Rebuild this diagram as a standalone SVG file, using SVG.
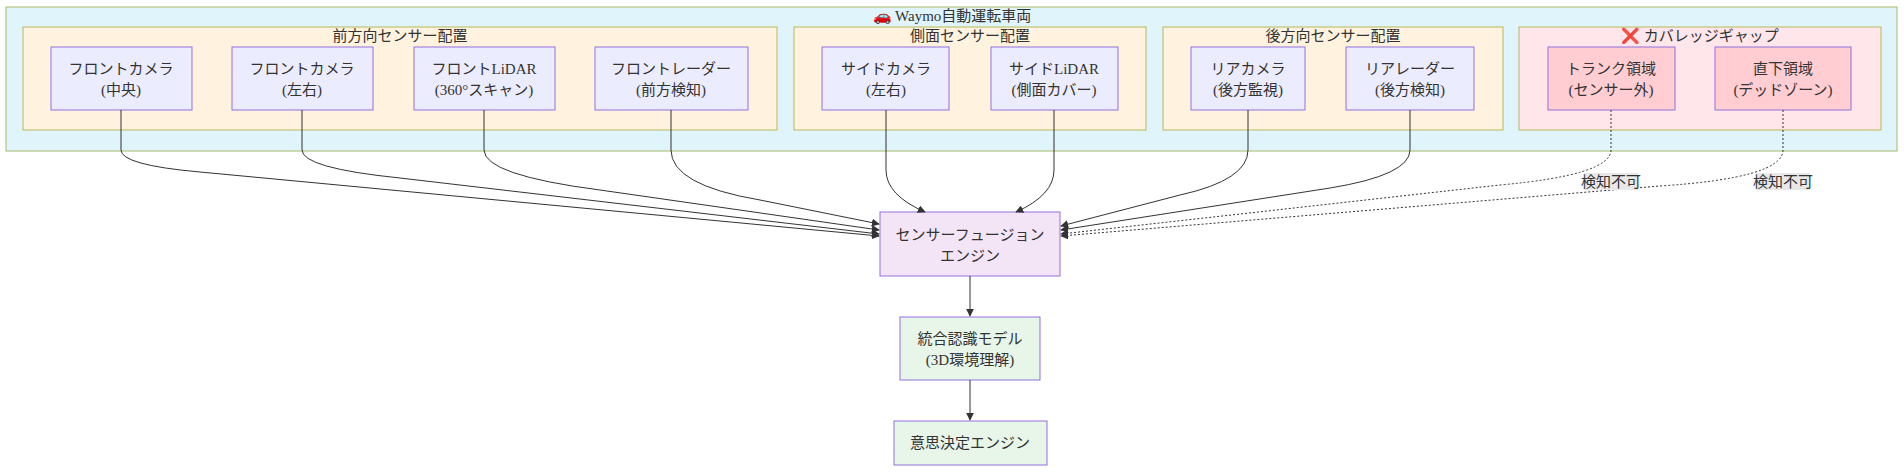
<svg xmlns="http://www.w3.org/2000/svg" width="1904" height="472" viewBox="0 0 1904 472">
<defs>
<style>
text{font-family:"Liberation Serif","Noto Sans CJK JP",serif;font-size:15px;fill:#333;text-anchor:middle}
.g{fill:#fff3e0;stroke:#b8b85a;stroke-width:1}
.n{fill:#ececff;stroke:#9370db;stroke-width:1}
.r{fill:#ffcdd2;stroke:#9370db;stroke-width:1}
.e{fill:none;stroke:#333;stroke-width:1;marker-end:url(#a)}
.d{fill:none;stroke:#333;stroke-width:1;stroke-dasharray:2 2;marker-end:url(#a)}
</style>
<marker id="a" viewBox="0 0 10 10" refX="9" refY="5" markerWidth="8" markerHeight="8" orient="auto"><path d="M0,0L10,5L0,10z" fill="#333"/></marker>
</defs>
<rect width="1904" height="472" fill="#fff"/>
<g id="vehicle"><rect x="6" y="7" width="1891" height="144" fill="#dff4fb" stroke="#a8b86a"/><text x="952" y="21">🚗 Waymo自動運転車両</text></g>
<g id="front"><rect class="g" x="23" y="27" width="754" height="103"/><text x="400" y="41">前方向センサー配置</text></g>
<g id="side"><rect class="g" x="794" y="27" width="352" height="103"/><text x="970" y="41">側面センサー配置</text></g>
<g id="rear"><rect class="g" x="1163" y="27" width="340" height="103"/><text x="1333" y="41">後方向センサー配置</text></g>
<g id="gap"><rect x="1519" y="27" width="362" height="103" fill="#ffe6ea" stroke="#b8b85a"/><text x="1700" y="41">❌ カバレッジギャップ</text></g>
<g id="fc"><rect class="n" x="51" y="47" width="141" height="63"/><text x="121" y="74">フロントカメラ</text><text x="121" y="95">(中央)</text></g>
<g id="fl"><rect class="n" x="232" y="47" width="141" height="63"/><text x="302" y="74">フロントカメラ</text><text x="302" y="95">(左右)</text></g>
<g id="fli"><rect class="n" x="414" y="47" width="141" height="63"/><text x="484" y="74">フロントLiDAR</text><text x="484" y="95">(360°スキャン)</text></g>
<g id="fr"><rect class="n" x="595" y="47" width="153" height="63"/><text x="671" y="74">フロントレーダー</text><text x="671" y="95">(前方検知)</text></g>
<g id="sc"><rect class="n" x="822" y="47" width="127" height="63"/><text x="886" y="74">サイドカメラ</text><text x="886" y="95">(左右)</text></g>
<g id="sl"><rect class="n" x="991" y="47" width="127" height="63"/><text x="1054" y="74">サイドLiDAR</text><text x="1054" y="95">(側面カバー)</text></g>
<g id="rc"><rect class="n" x="1191" y="47" width="114" height="63"/><text x="1248" y="74">リアカメラ</text><text x="1248" y="95">(後方監視)</text></g>
<g id="rr"><rect class="n" x="1346" y="47" width="128" height="63"/><text x="1410" y="74">リアレーダー</text><text x="1410" y="95">(後方検知)</text></g>
<g id="trunk"><rect class="r" x="1548" y="47" width="127" height="63"/><text x="1611" y="74">トランク領域</text><text x="1611" y="95">(センサー外)</text></g>
<g id="under"><rect class="r" x="1715" y="47" width="136" height="63"/><text x="1783" y="74">直下領域</text><text x="1783" y="95">(デッドゾーン)</text></g>
<g id="fusion"><rect x="880" y="212" width="180" height="64" fill="#f3e5f5" stroke="#9370db"/><text x="970" y="240">センサーフュージョン</text><text x="970" y="261">エンジン</text></g>
<g id="model"><rect x="900" y="317" width="140" height="63" fill="#e8f5e9" stroke="#9370db"/><text x="970" y="344">統合認識モデル</text><text x="970" y="365">(3D環境理解)</text></g>
<g id="decision"><rect x="894" y="421" width="153" height="44" fill="#e8f5e9" stroke="#9370db"/><text x="970" y="448">意思決定エンジン</text></g>
<g id="edges">
<path class="e" d="M121,110 V150 Q121,165 200,172 L879,236"/>
<path class="e" d="M302,110 V150 Q302,168 400,178 L879,234"/>
<path class="e" d="M484,110 V150 Q484,175 600,190 L879,230"/>
<path class="e" d="M671,110 V150 Q671,185 760,200 L879,224"/>
<path class="e" d="M886,110 V170 Q886,195 925,212"/>
<path class="e" d="M1054,110 V170 Q1054,195 1016,212"/>
<path class="e" d="M1248,110 V150 Q1248,180 1180,195 L1061,226"/>
<path class="e" d="M1410,110 V150 Q1410,175 1330,188 L1061,230"/>
<path class="d" d="M1611,110 V150 Q1611,175 1500,185 L1061,234"/>
<path class="d" d="M1783,110 V150 Q1783,178 1660,186 L1061,236"/>
<path class="e" d="M970,276 V316"/>
<path class="e" d="M970,380 V420"/>
<rect x="1584" y="173" width="54" height="17" fill="#e8e8e8"/><text x="1611" y="187">検知不可</text>
<rect x="1756" y="173" width="54" height="17" fill="#e8e8e8"/><text x="1783" y="187">検知不可</text>
</g>
</svg>
